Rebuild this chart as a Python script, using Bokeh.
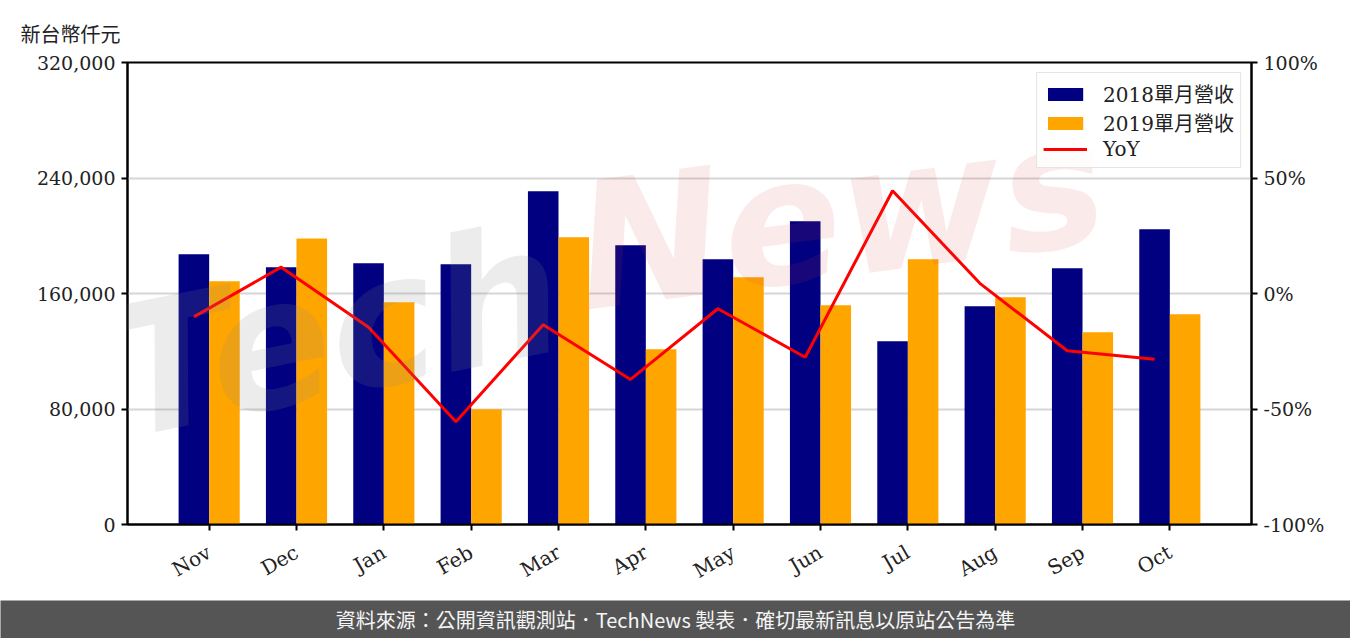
import math
from bokeh.plotting import figure
from bokeh.models import (ColumnDataSource, Range1d, LinearAxis, FixedTicker, Title,
                          NumeralTickFormatter, PrintfTickFormatter, Label, Legend, LegendItem)
from bokeh.transform import dodge
from bokeh.layouts import column
from bokeh.embed import file_html
from bokeh.resources import INLINE

# ---- data ----
months = ["Nov", "Dec", "Jan", "Feb", "Mar", "Apr", "May", "Jun", "Jul", "Aug", "Sep", "Oct"]
rev_2018 = [187200, 178200, 181000, 180300, 230900, 193500, 183800, 210100, 127000, 151200, 177500, 204500]
rev_2019 = [168500, 198100, 154000, 79900, 199000, 121400, 171300, 151900, 183800, 157400, 133200, 145700]
yoy_pct = [-10.1, 11.4, -14.6, -55.5, -13.5, -37.2, -6.6, -27.6, 44.5, 4.4, -24.8, -28.5]
left_ticks = [0, 80000, 160000, 240000, 320000]
right_ticks = [-100, -50, 0, 50, 100]

SERIF = "DejaVu Serif"
CJK = "Noto Sans CJK TC"
MIX = "DejaVu Serif, Noto Sans CJK TC"

idx = list(range(len(months)))
src = ColumnDataSource(dict(idx=idx, m=months, r18=rev_2018, r19=rev_2019, yoy=yoy_pct))

p = figure(width=1350, height=600, output_backend="svg", toolbar_location=None,
           x_range=Range1d(-0.935, len(months) - 1 + 0.935),
           y_range=Range1d(0, 320000),
           min_border_left=127, min_border_right=99, min_border_top=62, min_border_bottom=76)
p.extra_y_ranges = {"yoy": Range1d(-100, 100)}

b18 = p.vbar(x=dodge("idx", -0.175), top="r18", width=0.35, source=src,
             fill_color="#000080", line_color=None)
b19 = p.vbar(x=dodge("idx", 0.175), top="r19", width=0.35, source=src,
             fill_color="#FFA500", line_color=None)
ln = p.line(x=dodge("idx", -0.175), y="yoy", source=src, y_range_name="yoy",
            line_color="#FF0000", line_width=3)

# axes
p.xaxis.ticker = FixedTicker(ticks=idx)
p.xaxis.major_label_overrides = {i: m for i, m in zip(idx, months)}
p.xaxis.major_label_orientation = math.pi / 6
p.yaxis.ticker = FixedTicker(ticks=left_ticks)
p.yaxis.formatter = NumeralTickFormatter(format="0,0")

ra = LinearAxis(y_range_name="yoy", ticker=FixedTicker(ticks=right_ticks),
                formatter=PrintfTickFormatter(format="%d%%"))
p.add_layout(ra, "right")

for ax in [p.xaxis[0], p.yaxis[0], ra]:
    ax.axis_line_color = "black"
    ax.axis_line_width = 2
    ax.major_tick_line_color = "black"
    ax.major_tick_line_width = 2
    ax.major_tick_out = 6
    ax.major_tick_in = 0
    ax.minor_tick_line_color = None
    ax.major_label_text_font = SERIF
    ax.major_label_text_font_size = "19px"
    ax.major_label_text_color = "#222222"
    ax.major_label_standoff = 6
p.xaxis[0].major_label_standoff = 20
p.xaxis[0].major_label_text_font_size = "20px"

p.xgrid.grid_line_color = None
p.ygrid.ticker = FixedTicker(ticks=left_ticks)
p.ygrid.grid_line_color = "#d6d6d6"
p.ygrid.grid_line_width = 2
p.outline_line_color = "black"
p.outline_line_width = 2
p.background_fill_color = "white"
p.border_fill_color = "white"

# unit label (as title above the frame, shifted left)
t = Title(text="新台幣仟元", align="left", offset=-107, standoff=30,
          text_font=CJK, text_font_size="20px", text_font_style="normal", text_color="#222222")
p.add_layout(t, "above")

# watermark
p.add_layout(Label(x=5, y=45, x_units="screen", y_units="screen", text="Tech",
                   angle=0.2, text_font="DejaVu Sans", text_font_style="bold italic",
                   text_font_size="180px", text_color="#888888", text_alpha=0.16))
p.add_layout(Label(x=463, y=174, x_units="screen", y_units="screen", text="News",
                   angle=0.13, text_font="DejaVu Sans", text_font_style="bold italic",
                   text_font_size="175px", text_color="#d04040", text_alpha=0.11))

legend = Legend(items=[LegendItem(label="2018單月營收", renderers=[b18]),
                       LegendItem(label="2019單月營收", renderers=[b19]),
                       LegendItem(label="YoY", renderers=[ln])],
                location="top_right")
legend.label_text_font = MIX
legend.label_text_font_size = "20px"
legend.label_text_color = "#222222"
legend.glyph_width = 44
legend.glyph_height = 16
legend.label_height = 22
legend.label_standoff = 16
legend.spacing = 0
legend.padding = 6
legend.margin = 10
legend.border_line_color = "#cccccc"
legend.border_line_width = 1.5
legend.background_fill_alpha = 0.85
p.add_layout(legend)

# footer
f = figure(width=1350, height=38, output_backend="svg", toolbar_location=None,
           x_range=Range1d(0, 1), y_range=Range1d(0, 1),
           x_axis_type=None, y_axis_type=None,
           min_border=0, min_border_left=0, min_border_right=0, min_border_top=0, min_border_bottom=0)
f.frame_align = False
f.grid.visible = False
f.outline_line_color = None
f.background_fill_color = "#555555"
f.border_fill_color = "#555555"
f.add_layout(Label(x=0.5, y=0.5, text="資料來源：公開資訊觀測站．TechNews 製表．確切最新訊息以原站公告為準",
                   text_font=CJK, text_font_size="20px", text_color="#f5f5f5",
                   text_align="center", text_baseline="middle"))

layout = column(p, f, spacing=0)
open("out.html", "w").write(file_html(layout, INLINE))
